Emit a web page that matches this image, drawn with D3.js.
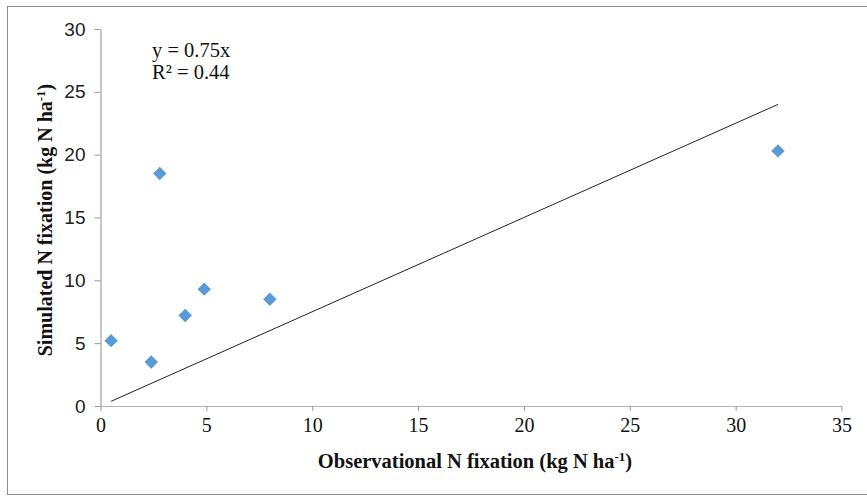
<!DOCTYPE html>
<html>
<head>
<meta charset="utf-8">
<script src="https://cdn.jsdelivr.net/npm/d3@7"></script>
<style>
  body { margin: 0; background: #fff; }
  svg { display: block; }
</style>
</head>
<body>
<svg width="867" height="496"></svg>
<script>
// observed vs simulated N fixation (kg N/ha)
const observed = [0.5, 2.4, 2.8, 4.0, 4.9, 8.0, 32.0];
const simulated = [5.2, 3.5, 18.5, 7.2, 9.3, 8.5, 20.3];
const slope = 0.75;
const xTicks = [0, 5, 10, 15, 20, 25, 30, 35];
const yTicks = [0, 5, 10, 15, 20, 25, 30];

const svg = d3.select('svg');
const margin = { left: 100.5, right: 25.5, top: 29, bottom: 90 };
const width = +svg.attr('width'), height = +svg.attr('height');
const inner = {
    width: width - margin.left - margin.right,
    height: height - margin.top - margin.bottom
};

// frame around the chart (right edge runs off the page)
svg.append('rect')
    .attr('x', 7.5).attr('y', 6.5)
    .attr('width', 880).attr('height', 488)
    .attr('fill', 'none').attr('stroke', '#8c8c8c');

const xScale = d3.scaleLinear().domain([0, 35]).range([0, inner.width]);
const yScale = d3.scaleLinear().domain([0, 30]).range([inner.height, 0]);

const g = svg.append('g').attr('transform', `translate(${margin.left},${margin.top})`);

const xAxis = d3.axisBottom(xScale).tickValues(xTicks).tickSize(5).tickPadding(7).tickSizeOuter(0);
const yAxis = d3.axisLeft(yScale).tickValues(yTicks).tickSize(6).tickPadding(9).tickSizeOuter(0);

const yg = g.append('g').call(yAxis);
yg.select('.domain').attr('stroke', '#b3b3b3').attr('stroke-width', 1.5);
yg.selectAll('.tick line').attr('stroke', '#999');
yg.selectAll('.tick text')
    .attr('fill', '#222')
    .style('font-family', '"Liberation Sans", Arial, sans-serif')
    .style('font-size', '19px');

const xg = g.append('g').attr('transform', `translate(0,${inner.height})`).call(xAxis);
xg.select('.domain').attr('stroke', '#b3b3b3').attr('stroke-width', 1.2);
xg.selectAll('.tick line').attr('stroke', '#999');
xg.selectAll('.tick text')
    .attr('fill', '#111')
    .style('font-family', '"Liberation Serif", "Times New Roman", serif')
    .style('font-size', '20px');

// trend line through the origin
const x0 = d3.min(observed), x1 = d3.max(observed);
g.append('line')
    .attr('x1', xScale(x0)).attr('y1', yScale(slope * x0))
    .attr('x2', xScale(x1)).attr('y2', yScale(slope * x1))
    .attr('stroke', '#222').attr('stroke-width', 1);

const diamond = d3.symbol().type(d3.symbolSquare).size(90);
g.selectAll('.pt').data(observed).enter().append('path')
    .attr('class', 'pt')
    .attr('d', diamond)
    .attr('transform', (d, i) => `translate(${xScale(d)},${yScale(simulated[i])}) rotate(45)`)
    .attr('fill', '#5b9bd5');

const serif = '"Liberation Serif", "Times New Roman", serif';
svg.append('text').attr('x', 152).attr('y', 57)
    .style('font-family', serif).style('font-size', '20.5px').attr('fill', '#111')
    .text('y = 0.75x');
svg.append('text').attr('x', 152).attr('y', 79)
    .style('font-family', serif).style('font-size', '20.5px').attr('fill', '#111')
    .text('R² = 0.44');

const xLabel = svg.append('text')
    .attr('x', 475).attr('y', 468)
    .attr('text-anchor', 'middle')
    .style('font-family', serif).style('font-size', '20.5px').style('font-weight', 'bold')
    .attr('fill', '#111');
xLabel.append('tspan').text('Observational N fixation (kg N ha');
xLabel.append('tspan').attr('dy', -7).style('font-size', '13px').text('-1');
xLabel.append('tspan').attr('dy', 7).text(')');

const yLabel = svg.append('text')
    .attr('transform', 'translate(52,220) rotate(-90)')
    .attr('text-anchor', 'middle')
    .style('font-family', serif).style('font-size', '20px').style('font-weight', 'bold')
    .attr('fill', '#111');
yLabel.append('tspan').text('Simulated N fixation (kg N ha');
yLabel.append('tspan').attr('dy', -7).style('font-size', '13px').text('-1');
yLabel.append('tspan').attr('dy', 7).text(')');
</script>
</body>
</html>
